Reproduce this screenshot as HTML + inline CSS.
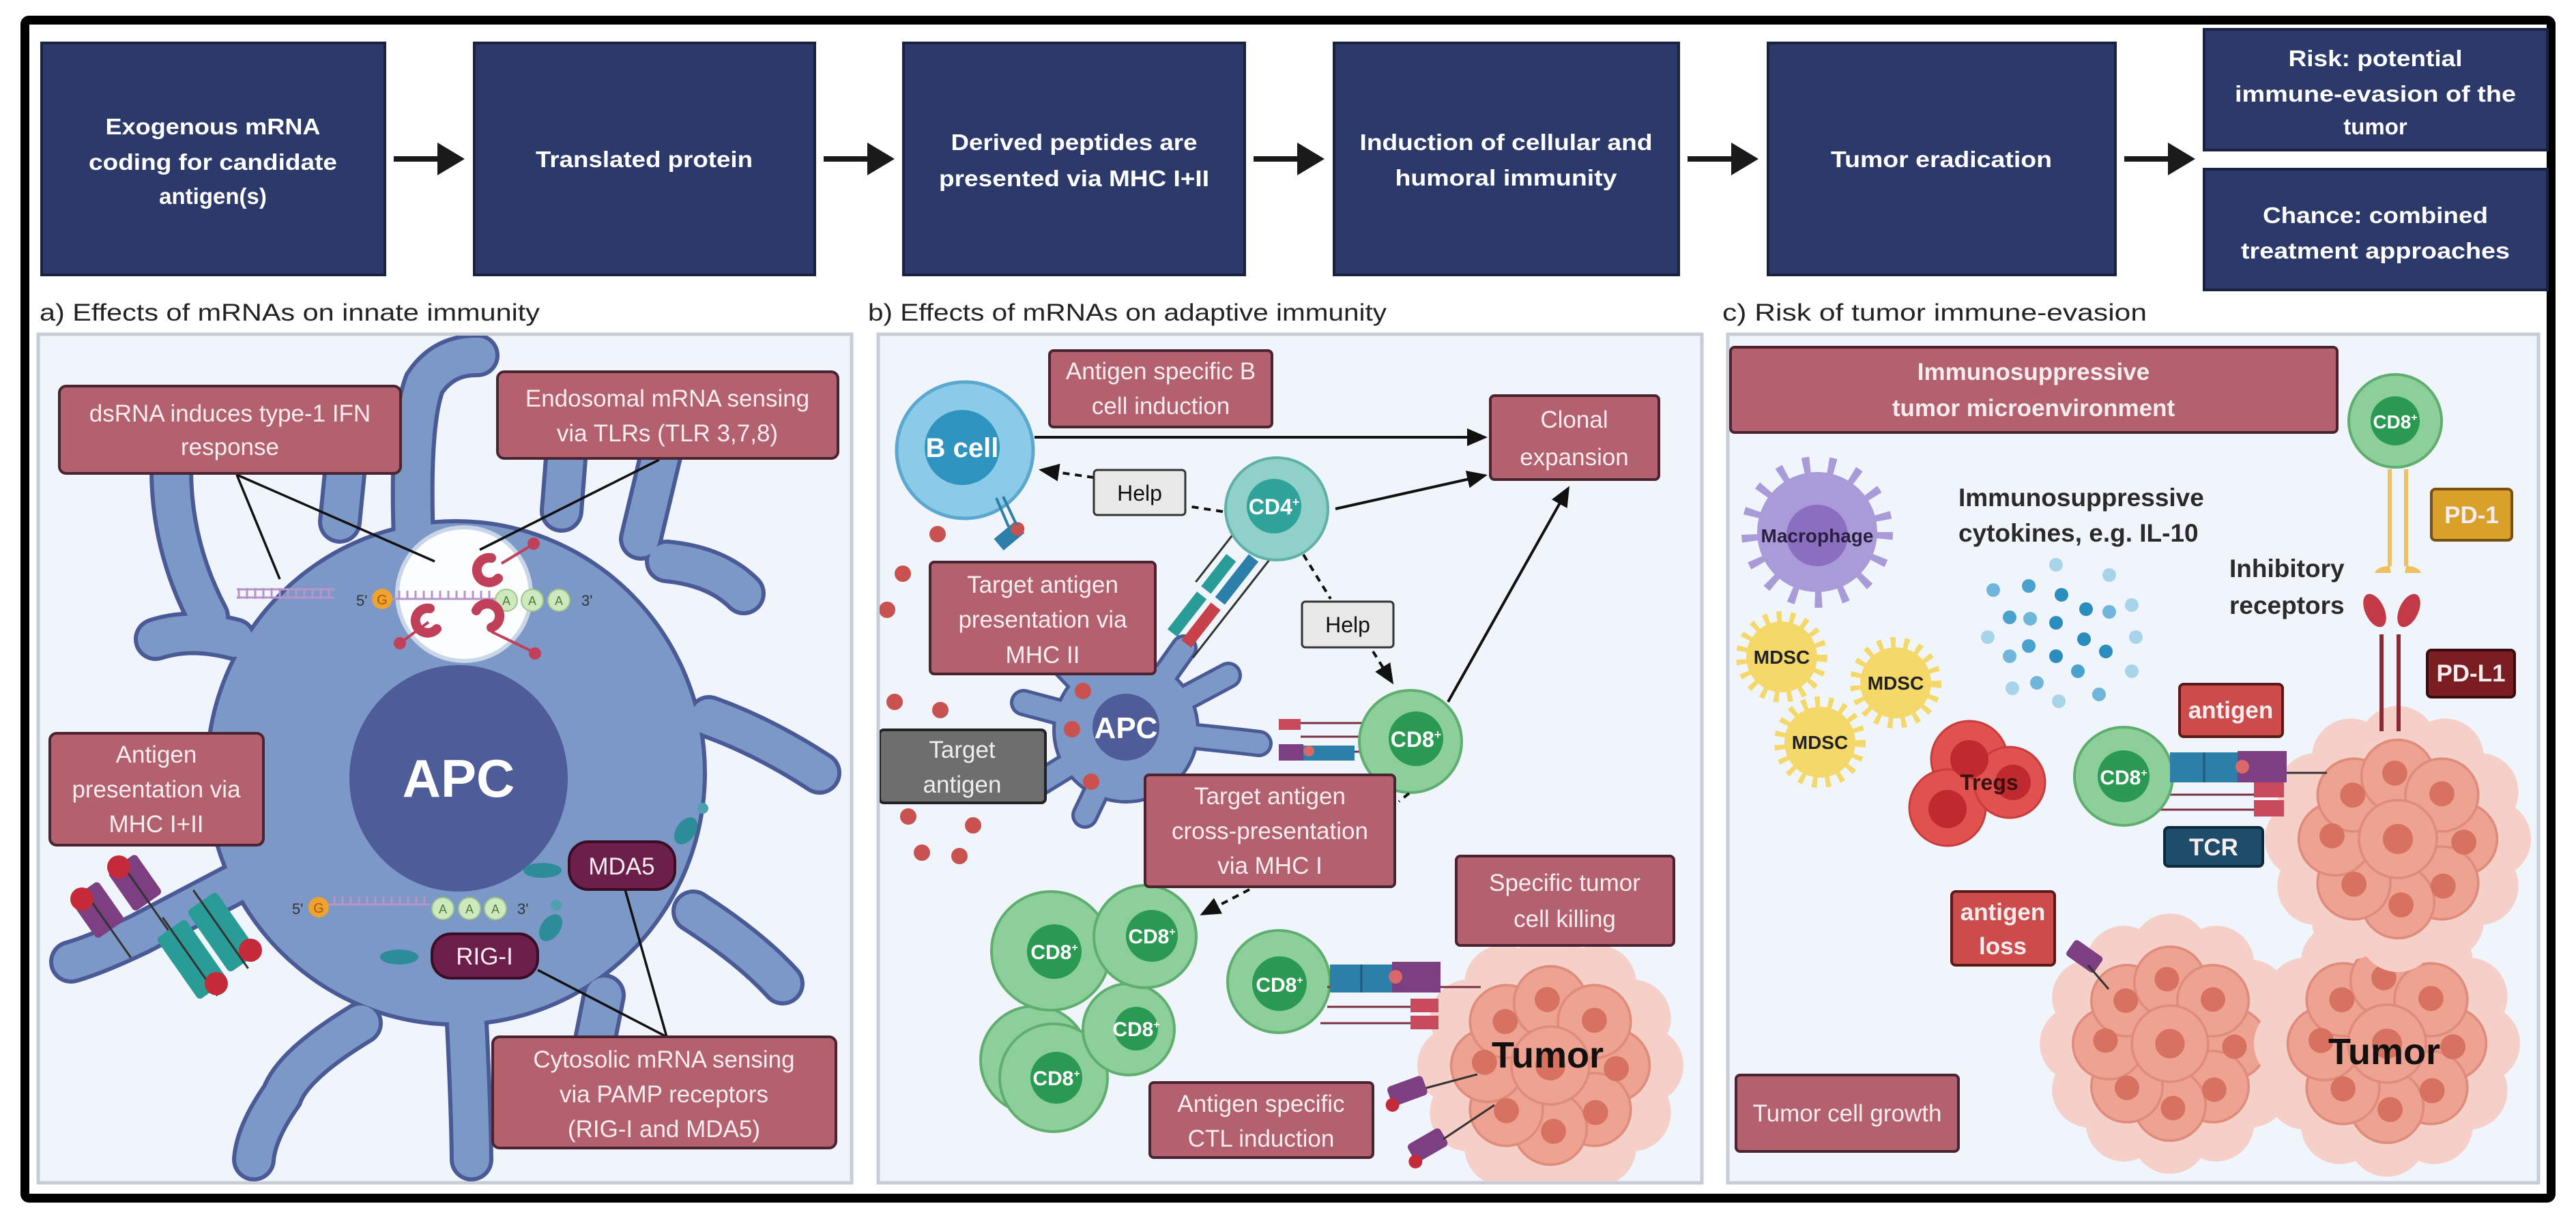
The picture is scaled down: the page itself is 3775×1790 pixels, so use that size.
<!DOCTYPE html>
<html><head><meta charset="utf-8"><style>
html,body{margin:0;padding:0;background:#fff;}
svg{display:block;}
text{font-family:"Liberation Sans",sans-serif;}
</style></head><body>
<svg width="3775" height="1790" viewBox="0 0 3775 1790" xmlns="http://www.w3.org/2000/svg">
<defs>
<clipPath id="cpa"><rect x="58" y="492" width="1188" height="1240"/></clipPath>
<clipPath id="cpb"><rect x="1289" y="492" width="1203" height="1240"/></clipPath>
<clipPath id="cpc"><rect x="2534" y="492" width="1184" height="1240"/></clipPath>
<g id="tumor">
  <g fill="#f4d0c8">
    <circle cx="150" cy="0" r="62"/><circle cx="130" cy="75" r="62"/><circle cx="75" cy="130" r="62"/><circle cx="0" cy="150" r="62"/><circle cx="-75" cy="130" r="62"/><circle cx="-130" cy="75" r="62"/><circle cx="-150" cy="0" r="62"/><circle cx="-130" cy="-75" r="62"/><circle cx="-75" cy="-130" r="62"/><circle cx="0" cy="-150" r="62"/><circle cx="75" cy="-130" r="62"/><circle cx="130" cy="-75" r="62"/>
  </g>
  <g fill="#eea291" stroke="#e08c7b" stroke-width="4">
    <circle cx="100" cy="0" r="58"/><circle cx="70" cy="70" r="58"/><circle cx="0" cy="100" r="58"/><circle cx="-70" cy="70" r="58"/><circle cx="-100" cy="0" r="58"/><circle cx="-70" cy="-70" r="58"/><circle cx="0" cy="-100" r="58"/><circle cx="70" cy="-70" r="58"/><circle cx="0" cy="0" r="62"/>
  </g>
  <g fill="#d6725f">
    <circle cx="105" cy="5" r="20"/><circle cx="72" cy="75" r="20"/><circle cx="5" cy="105" r="20"/><circle cx="-70" cy="72" r="20"/><circle cx="-105" cy="-5" r="20"/><circle cx="-72" cy="-70" r="20"/><circle cx="-5" cy="-105" r="20"/><circle cx="70" cy="-72" r="20"/><circle cx="0" cy="0" r="24"/>
  </g>
</g>
<marker id="ahb" markerWidth="30" markerHeight="26" refX="26" refY="13" orient="auto" markerUnits="userSpaceOnUse"><path d="M0,0 L30,13 L0,26 Z" fill="#111"/></marker>
</defs>

<!-- frame -->
<rect x="36.5" y="29.5" width="3702" height="1727" fill="#fff" stroke="#000" stroke-width="13" rx="6"/>

<!-- top boxes -->
<g fill="#2c396b" stroke="#1a2242" stroke-width="4">
<rect x="61" y="63" width="503" height="340"/>
<rect x="695" y="63" width="499" height="340"/>
<rect x="1324" y="63" width="500" height="340"/>
<rect x="1955" y="63" width="505" height="340"/>
<rect x="2591" y="63" width="509" height="340"/>
<rect x="3230" y="43" width="503" height="177"/>
<rect x="3230" y="248" width="503" height="177"/>
</g>
<g fill="#fff" font-weight="bold" font-size="33" text-anchor="middle">
<text x="312" y="197" textLength="315" lengthAdjust="spacingAndGlyphs">Exogenous mRNA</text>
<text x="312" y="249" textLength="364" lengthAdjust="spacingAndGlyphs">coding for candidate</text>
<text x="312" y="299">antigen(s)</text>
<text x="944" y="245" textLength="318" lengthAdjust="spacingAndGlyphs">Translated protein</text>
<text x="1574" y="220" textLength="361" lengthAdjust="spacingAndGlyphs">Derived peptides are</text>
<text x="1574" y="273" textLength="396" lengthAdjust="spacingAndGlyphs">presented via MHC I+II</text>
<text x="2207" y="220" textLength="429" lengthAdjust="spacingAndGlyphs">Induction of cellular and</text>
<text x="2207" y="272" textLength="325" lengthAdjust="spacingAndGlyphs">humoral immunity</text>
<text x="2845" y="245" textLength="324" lengthAdjust="spacingAndGlyphs">Tumor eradication</text>
<text x="3481" y="97" textLength="255" lengthAdjust="spacingAndGlyphs">Risk: potential</text>
<text x="3481" y="149" textLength="412" lengthAdjust="spacingAndGlyphs">immune-evasion of the</text>
<text x="3481" y="197">tumor</text>
<text x="3481" y="327" textLength="330" lengthAdjust="spacingAndGlyphs">Chance: combined</text>
<text x="3481" y="379" textLength="394" lengthAdjust="spacingAndGlyphs">treatment approaches</text>
</g>
<g fill="#1a1a1a">
<path d="M577,229 h64 v-20 l40,24 l-40,24 v-20 h-64 z"/>
<path d="M1207,229 h64 v-20 l40,24 l-40,24 v-20 h-64 z"/>
<path d="M1837,229 h64 v-20 l40,24 l-40,24 v-20 h-64 z"/>
<path d="M2473,229 h64 v-20 l40,24 l-40,24 v-20 h-64 z"/>
<path d="M3113,229 h64 v-20 l40,24 l-40,24 v-20 h-64 z"/>
</g>

<g fill="#222" font-size="35">
<text x="58" y="470" textLength="733" lengthAdjust="spacingAndGlyphs">a) Effects of mRNAs on innate immunity</text>
<text x="1272" y="470" textLength="760" lengthAdjust="spacingAndGlyphs">b) Effects of mRNAs on adaptive immunity</text>
<text x="2524" y="470" textLength="622" lengthAdjust="spacingAndGlyphs">c)  Risk of tumor immune-evasion</text>
</g>

<g fill="#f0f5fb" stroke="#c6cdd7" stroke-width="5">
<rect x="56" y="490" width="1192" height="1244"/>
<rect x="1287" y="490" width="1207" height="1244"/>
<rect x="2532" y="490" width="1188" height="1244"/>
</g>

<!-- ============ PANEL A ============ -->
<g clip-path="url(#cpa)">
<g stroke-linecap="round" fill="none">
 <g stroke="#4a5a96" stroke-width="64">
  <path d="M305,904 Q250,800 251,684"/>
  <path d="M498,765 L506,684"/>
  <path d="M606,790 Q600,620 622,562 Q650,520 700,521"/>
  <path d="M823,749 L830,660"/>
  <path d="M939,790 L970,660"/>
  <path d="M977,823 Q1050,830 1090,870"/>
  <path d="M1039,1051 Q1120,1080 1201,1133"/>
  <path d="M1016,1336 Q1100,1390 1147,1442"/>
  <path d="M885,1459 L869,1540"/>
  <path d="M684,1500 Q690,1620 691,1700"/>
  <path d="M529,1500 Q430,1560 413,1606 Q375,1660 372,1700"/>
  <path d="M344,1296 Q260,1340 205,1369 Q140,1400 104,1410"/>
  <path d="M344,937 Q280,920 228,937"/>
 </g>
 <ellipse cx="668" cy="1133" rx="368" ry="372" fill="#4a5a96" stroke="none"/>
 <g stroke="#7b98c6" stroke-width="52">
  <path d="M305,904 Q250,800 251,684"/>
  <path d="M498,765 L506,684"/>
  <path d="M606,790 Q600,620 622,562 Q650,520 700,521"/>
  <path d="M823,749 L830,660"/>
  <path d="M939,790 L970,660"/>
  <path d="M977,823 Q1050,830 1090,870"/>
  <path d="M1039,1051 Q1120,1080 1201,1133"/>
  <path d="M1016,1336 Q1100,1390 1147,1442"/>
  <path d="M885,1459 L869,1540"/>
  <path d="M684,1500 Q690,1620 691,1700"/>
  <path d="M529,1500 Q430,1560 413,1606 Q375,1660 372,1700"/>
  <path d="M344,1296 Q260,1340 205,1369 Q140,1400 104,1410"/>
  <path d="M344,937 Q280,920 228,937"/>
 </g>
 <ellipse cx="668" cy="1133" rx="362" ry="366" fill="#7b98c6" stroke="none"/>
</g>
<ellipse cx="672" cy="1141" rx="160" ry="166" fill="#4f5c9a"/>
<text x="672" y="1168" fill="#fff" font-size="78" font-weight="bold" text-anchor="middle">APC</text>
<circle cx="680" cy="871" r="98" fill="#fbfdff" stroke="#c8d6e8" stroke-width="6"/>
<g stroke="#b693c8" stroke-width="3">
<line x1="347" y1="864" x2="490" y2="864"/><line x1="347" y1="876" x2="490" y2="876"/>
<line x1="575" y1="878" x2="725" y2="878"/>
</g>
<path d="M350,862 v16 M362,862 v16 M374,862 v16 M386,862 v16 M398,862 v16 M410,862 v16 M422,862 v16 M434,862 v16 M446,862 v16 M458,862 v16 M470,862 v16 M482,862 v16 M585,866 v12 M597,866 v12 M609,866 v12 M621,866 v12 M633,866 v12 M645,866 v12 M657,866 v12 M669,866 v12 M681,866 v12 M693,866 v12 M705,866 v12 M717,866 v12" stroke="#b693c8" stroke-width="3"/>
<text x="522" y="888" font-size="22" fill="#333">5'</text>
<circle cx="560" cy="878" r="15" fill="#f0a230"/><text x="560" y="886" font-size="20" fill="#a25c00" text-anchor="middle">G</text>
<g fill="#cfe9bf" stroke="#9cc88a" stroke-width="2"><circle cx="742" cy="880" r="16"/><circle cx="780" cy="880" r="16"/><circle cx="819" cy="880" r="16"/></g>
<g font-size="18" fill="#4c7a3c" text-anchor="middle"><text x="742" y="887">A</text><text x="780" y="887">A</text><text x="819" y="887">A</text></g>
<text x="852" y="888" font-size="22" fill="#333">3'</text>
<g fill="none" stroke="#c0405a" stroke-width="14" stroke-linecap="round">
<path d="M720,818 a18,18 0 1,0 10,30"/>
<path d="M640,922 a18,18 0 1,1 -10,-30"/>
<path d="M720,920 a18,18 0 1,0 -22,-25"/>
</g>
<g stroke="#c0405a" stroke-width="4"><line x1="735" y1="826" x2="778" y2="800"/><line x1="628" y1="912" x2="590" y2="940"/><line x1="720" y1="926" x2="780" y2="955"/></g>
<g fill="#c0405a"><circle cx="782" cy="797" r="9"/><circle cx="586" cy="943" r="9"/><circle cx="784" cy="958" r="9"/></g>
<line x1="482" y1="1326" x2="630" y2="1326" stroke="#b693c8" stroke-width="3"/>
<path d="M490,1314 v12 M502,1314 v12 M514,1314 v12 M526,1314 v12 M538,1314 v12 M550,1314 v12 M562,1314 v12 M574,1314 v12 M586,1314 v12 M598,1314 v12 M610,1314 v12 M622,1314 v12" stroke="#b693c8" stroke-width="3"/>
<text x="428" y="1340" font-size="22" fill="#333">5'</text>
<circle cx="467" cy="1330" r="15" fill="#f0a230"/><text x="467" y="1338" font-size="20" fill="#a25c00" text-anchor="middle">G</text>
<g fill="#cfe9bf" stroke="#9cc88a" stroke-width="2"><circle cx="649" cy="1332" r="16"/><circle cx="688" cy="1332" r="16"/><circle cx="726" cy="1332" r="16"/></g>
<g font-size="18" fill="#4c7a3c" text-anchor="middle"><text x="649" y="1339">A</text><text x="688" y="1339">A</text><text x="726" y="1339">A</text></g>
<text x="758" y="1340" font-size="22" fill="#333">3'</text>
<g fill="#2c8c98"><ellipse cx="795" cy="1276" rx="28" ry="11"/><ellipse cx="1005" cy="1218" rx="14" ry="22" transform="rotate(35 1005 1218)"/><ellipse cx="585" cy="1403" rx="28" ry="11"/><ellipse cx="807" cy="1360" rx="14" ry="22" transform="rotate(35 807 1360)"/></g>
<g fill="#4fa0ad"><circle cx="1030" cy="1185" r="8"/><circle cx="815" cy="1327" r="8"/></g>
<g transform="rotate(-35 140 1330)"><rect x="115" y="1300" width="50" height="70" rx="6" fill="#7b3f82"/><line x1="140" y1="1305" x2="140" y2="1420" stroke="#333" stroke-width="3"/></g>
<g transform="rotate(-35 195 1290)"><rect x="170" y="1260" width="50" height="70" rx="6" fill="#7b3f82"/><line x1="195" y1="1265" x2="195" y2="1380" stroke="#333" stroke-width="3"/></g>
<circle cx="120" cy="1318" r="17" fill="#c42a3a"/><circle cx="174" cy="1271" r="17" fill="#c42a3a"/>
<g transform="rotate(-35 285 1410)"><rect x="258" y="1350" width="52" height="110" rx="6" fill="#2a9c98"/><line x1="284" y1="1330" x2="284" y2="1470" stroke="#333" stroke-width="3"/></g>
<g transform="rotate(-35 330 1370)"><rect x="303" y="1310" width="52" height="110" rx="6" fill="#2a9c98"/><line x1="329" y1="1290" x2="329" y2="1430" stroke="#333" stroke-width="3"/></g>
<circle cx="317" cy="1442" r="17" fill="#c42a3a"/><circle cx="367" cy="1393" r="17" fill="#c42a3a"/>
<g stroke="#111" stroke-width="3.5">
<line x1="347" y1="696" x2="410" y2="849"/>
<line x1="347" y1="696" x2="637" y2="823"/>
<line x1="966" y1="674" x2="703" y2="806"/>
<line x1="977" y1="1520" x2="916" y2="1304"/>
<line x1="977" y1="1520" x2="788" y2="1422"/>
</g>
<g fill="#b3606f" stroke="#4a2430" stroke-width="4">
<rect x="87" y="566" width="500" height="128" rx="10"/>
<rect x="729" y="545" width="499" height="127" rx="10"/>
<rect x="73" y="1075" width="313" height="164" rx="10"/>
<rect x="722" y="1520" width="503" height="163" rx="10"/>
</g>
<g fill="#6b1f4a" stroke="#3a0d25" stroke-width="4">
<rect x="834" y="1234" width="155" height="70" rx="28"/>
<rect x="633" y="1369" width="155" height="65" rx="28"/>
</g>
<g fill="#f7ecee" font-size="35" text-anchor="middle">
<text x="337" y="618">dsRNA induces type-1 IFN</text><text x="337" y="667">response</text>
<text x="978" y="596">Endosomal mRNA sensing</text><text x="978" y="647">via TLRs (TLR 3,7,8)</text>
<text x="229" y="1118">Antigen</text><text x="229" y="1169">presentation via</text><text x="229" y="1220">MHC I+II</text>
<text x="973" y="1565">Cytosolic mRNA sensing</text><text x="973" y="1616">via PAMP receptors</text><text x="973" y="1667">(RIG-I and MDA5)</text>
<text x="911" y="1282">MDA5</text><text x="710" y="1414">RIG-I</text>
</g>
</g>

<!-- ============ PANEL B ============ -->
<g clip-path="url(#cpb)">
<g fill="#c9514f">
<circle cx="1374" cy="783" r="12"/><circle cx="1323" cy="841" r="12"/><circle cx="1300" cy="894" r="12"/><circle cx="1311" cy="1029" r="12"/><circle cx="1378" cy="1041" r="12"/><circle cx="1331" cy="1197" r="12"/><circle cx="1426" cy="1210" r="12"/><circle cx="1351" cy="1250" r="12"/><circle cx="1406" cy="1255" r="12"/>
</g>
<g stroke-linecap="round" fill="none">
 <g stroke="#4a5a96" stroke-width="40">
  <path d="M1650,1070 L1735,950"/><path d="M1650,1070 Q1760,1080 1845,1090"/><path d="M1650,1070 L1500,1030"/><path d="M1650,1070 L1590,1195"/><path d="M1650,1070 L1720,1200"/><path d="M1650,1070 L1545,960"/><path d="M1650,1070 L1800,990"/><path d="M1650,1070 L1520,1150"/>
 </g>
 <circle cx="1650" cy="1070" r="108" fill="#4a5a96" stroke="none"/>
 <g stroke="#7b98c6" stroke-width="30">
  <path d="M1650,1070 L1735,950"/><path d="M1650,1070 Q1760,1080 1845,1090"/><path d="M1650,1070 L1500,1030"/><path d="M1650,1070 L1590,1195"/><path d="M1650,1070 L1720,1200"/><path d="M1650,1070 L1545,960"/><path d="M1650,1070 L1800,990"/><path d="M1650,1070 L1520,1150"/>
 </g>
 <circle cx="1650" cy="1070" r="103" fill="#7b98c6" stroke="none"/>
</g>
<circle cx="1650" cy="1066" r="49" fill="#4f5c9a"/>
<text x="1650" y="1082" fill="#fff" font-size="44" font-weight="bold" text-anchor="middle">APC</text>
<circle cx="1587" cy="1013" r="12" fill="#c9514f"/><circle cx="1571" cy="1069" r="12" fill="#c9514f"/><circle cx="1599" cy="1146" r="12" fill="#c9514f"/>
<g transform="rotate(-52 1790 870)">
<rect x="1700" y="840" width="70" height="18" fill="#2a9c98"/><rect x="1780" y="840" width="60" height="18" fill="#2a9c98"/>
<rect x="1700" y="866" width="70" height="18" fill="#c7414a"/><rect x="1780" y="866" width="80" height="18" fill="#2b7fa8"/>
<line x1="1690" y1="895" x2="1900" y2="895" stroke="#333" stroke-width="3"/><line x1="1780" y1="830" x2="1900" y2="830" stroke="#333" stroke-width="3"/>
</g>
<rect x="1874" y="1054" width="32" height="16" fill="#c94a5c"/>
<rect x="1874" y="1091" width="36" height="24" fill="#7b3f82"/>
<rect x="1910" y="1093" width="75" height="22" fill="#2b7fa8"/>
<circle cx="1918" cy="1101" r="8" fill="#d9686a"/>
<g stroke="#7a3040" stroke-width="3"><line x1="1906" y1="1060" x2="2040" y2="1060"/><line x1="1906" y1="1080" x2="2040" y2="1080"/><line x1="1985" y1="1102" x2="2040" y2="1102"/></g>
<circle cx="1414" cy="660" r="100" fill="#8ccbe8" stroke="#5aa8d0" stroke-width="5"/>
<circle cx="1410" cy="656" r="55" fill="#2e93bf"/>
<text x="1410" y="670" fill="#fff" font-size="40" font-weight="bold" text-anchor="middle">B cell</text>
<g transform="rotate(-40 1480 790)"><rect x="1462" y="775" width="40" height="22" fill="#2b7fa8"/><circle cx="1498" cy="786" r="10" fill="#c9514f"/></g>
<line x1="1460" y1="730" x2="1478" y2="772" stroke="#2b7fa8" stroke-width="4"/><line x1="1470" y1="728" x2="1490" y2="770" stroke="#2b7fa8" stroke-width="4"/>
<circle cx="1871" cy="746" r="75" fill="#8fd0c8" stroke="#5fb0a8" stroke-width="4"/>
<circle cx="1867" cy="742" r="40" fill="#2fa39a"/>
<text x="1867" y="754" fill="#fff" font-size="32" font-weight="bold" text-anchor="middle">CD4<tspan font-size="18" dy="-12">+</tspan></text>
<circle cx="2067" cy="1087" r="75" fill="#8ccf9a" stroke="#5fae6f" stroke-width="4"/>
<circle cx="2075" cy="1083" r="40" fill="#2a9a52"/>
<text x="2075" y="1095" fill="#fff" font-size="32" font-weight="bold" text-anchor="middle">CD8<tspan font-size="18" dy="-12">+</tspan></text>
<g stroke="#111" stroke-width="4" fill="none">
<line x1="1516" y1="641" x2="2176" y2="641" marker-end="url(#ahb)"/>
<line x1="1957" y1="746" x2="2176" y2="697" marker-end="url(#ahb)"/>
<line x1="2122" y1="1029" x2="2298" y2="716" marker-end="url(#ahb)"/>
</g>
<g stroke="#111" stroke-width="4" fill="none" stroke-dasharray="10 8">
<line x1="1792" y1="750" x2="1740" y2="742"/>
<line x1="1603" y1="700" x2="1526" y2="689" marker-end="url(#ahb)"/>
<line x1="1910" y1="813" x2="1950" y2="878"/>
<line x1="2012" y1="955" x2="2040" y2="1000" marker-end="url(#ahb)"/>
<line x1="2065" y1="1163" x2="2050" y2="1175"/>
<line x1="1831" y1="1304" x2="1762" y2="1340" marker-end="url(#ahb)"/>
</g>
<g fill="#8ccf9a" stroke="#5fae6f" stroke-width="4">
<circle cx="1516" cy="1554" r="79"/><circle cx="1544" cy="1580" r="79"/><circle cx="1654" cy="1509" r="67"/><circle cx="1540" cy="1394" r="87"/><circle cx="1678" cy="1373" r="75"/>
</g>
<g fill="#2a9a52"><circle cx="1548" cy="1580" r="38"/><circle cx="1665" cy="1508" r="32"/><circle cx="1545" cy="1395" r="40"/><circle cx="1688" cy="1372" r="38"/></g>
<g fill="#fff" font-size="30" font-weight="bold" text-anchor="middle">
<text x="1548" y="1591">CD8<tspan font-size="16" dy="-12">+</tspan></text>
<text x="1665" y="1519">CD8<tspan font-size="16" dy="-12">+</tspan></text>
<text x="1545" y="1406">CD8<tspan font-size="16" dy="-12">+</tspan></text>
<text x="1688" y="1383">CD8<tspan font-size="16" dy="-12">+</tspan></text>
</g>
<use href="#tumor" transform="translate(2272,1562) scale(0.92)"/>
<text x="2268" y="1565" fill="#111" font-size="54" font-weight="bold" text-anchor="middle">Tumor</text>
<circle cx="1874" cy="1439" r="75" fill="#8ccf9a" stroke="#5fae6f" stroke-width="4"/>
<circle cx="1875" cy="1442" r="40" fill="#2a9a52"/>
<text x="1875" y="1454" fill="#fff" font-size="30" font-weight="bold" text-anchor="middle">CD8<tspan font-size="16" dy="-12">+</tspan></text>
<g stroke="#7a3040" stroke-width="3"><line x1="1945" y1="1447" x2="2170" y2="1447"/><line x1="1945" y1="1476" x2="2108" y2="1476"/><line x1="1935" y1="1500" x2="2108" y2="1500"/></g>
<rect x="1949" y="1414" width="91" height="41" fill="#2b7fa8"/><line x1="1995" y1="1414" x2="1995" y2="1455" stroke="#1e5a78" stroke-width="3"/>
<rect x="2040" y="1410" width="71" height="45" fill="#7b3f82"/><circle cx="2045" cy="1432" r="10" fill="#d9686a"/>
<rect x="2067" y="1464" width="41" height="20" fill="#c94a5c"/><rect x="2067" y="1489" width="41" height="20" fill="#c94a5c"/>
<g transform="rotate(-20 2060 1600)"><rect x="2035" y="1585" width="55" height="30" rx="6" fill="#7b3f82"/><circle cx="2035" cy="1612" r="10" fill="#c42a3a"/></g>
<g transform="rotate(-30 2090 1680)"><rect x="2065" y="1665" width="55" height="30" rx="6" fill="#7b3f82"/><circle cx="2065" cy="1692" r="10" fill="#c42a3a"/></g>
<line x1="2090" y1="1595" x2="2165" y2="1575" stroke="#333" stroke-width="3"/><line x1="2115" y1="1670" x2="2190" y2="1620" stroke="#333" stroke-width="3"/>
<g fill="#b3606f" stroke="#4a2430" stroke-width="4">
<rect x="1538" y="514" width="326" height="112" rx="6"/>
<rect x="2184" y="580" width="247" height="123" rx="6"/>
<rect x="1363" y="824" width="330" height="164" rx="6"/>
<rect x="1678" y="1136" width="366" height="164" rx="6"/>
<rect x="2134" y="1255" width="319" height="131" rx="6"/>
<rect x="1685" y="1587" width="327" height="110" rx="6"/>
</g>
<rect x="1289" y="1070" width="243" height="107" rx="6" fill="#6e6e6e" stroke="#222" stroke-width="4"/>
<g fill="#e8e8e8" stroke="#333" stroke-width="3"><rect x="1603" y="689" width="134" height="66" rx="5"/><rect x="1908" y="882" width="134" height="67" rx="5"/></g>
<g fill="#f7ecee" font-size="35" text-anchor="middle">
<text x="1701" y="556">Antigen specific B</text><text x="1701" y="607">cell induction</text>
<text x="2307" y="627">Clonal</text><text x="2307" y="682">expansion</text>
<text x="1528" y="869">Target antigen</text><text x="1528" y="920">presentation via</text><text x="1528" y="972">MHC II</text>
<text x="1861" y="1179">Target antigen</text><text x="1861" y="1230">cross-presentation</text><text x="1861" y="1281">via MHC I</text>
<text x="2293" y="1306">Specific tumor</text><text x="2293" y="1359">cell killing</text>
<text x="1848" y="1630">Antigen specific</text><text x="1848" y="1681">CTL induction</text>
<text x="1410" y="1111" fill="#eee">Target</text><text x="1410" y="1162" fill="#eee">antigen</text>
</g>
<g fill="#111" font-size="32" text-anchor="middle"><text x="1670" y="734">Help</text><text x="1975" y="927">Help</text></g>
</g>

<!-- ============ PANEL C ============ -->
<g clip-path="url(#cpc)">
<use href="#tumor" transform="translate(3180,1530) scale(0.9)"/>
<use href="#tumor" transform="translate(3498,1530) scale(0.92)"/>
<use href="#tumor" transform="translate(3514,1230) scale(0.92)"/>
<text x="3494" y="1560" fill="#111" font-size="54" font-weight="bold" text-anchor="middle">Tumor</text>
<circle cx="2663" cy="780" r="88" fill="#a99ad8"/>
<circle cx="2663" cy="780" r="96" fill="none" stroke="#a99ad8" stroke-width="30" stroke-dasharray="10 26"/>
<circle cx="2663" cy="785" r="45" fill="#8a6ec0"/>
<text x="2663" y="795" fill="#2a1f40" font-size="28" font-weight="bold" text-anchor="middle">Macrophage</text>
<g fill="#f5d86a">
<circle cx="2611" cy="963" r="52"/><circle cx="2778" cy="1001" r="52"/><circle cx="2667" cy="1088" r="52"/>
</g>
<g fill="none" stroke="#f5d86a" stroke-width="18" stroke-dasharray="7 12">
<circle cx="2611" cy="963" r="58"/><circle cx="2778" cy="1001" r="58"/><circle cx="2667" cy="1088" r="58"/>
</g>
<g fill="#222" font-size="28" font-weight="bold" text-anchor="middle">
<text x="2611" y="973">MDSC</text><text x="2778" y="1011">MDSC</text><text x="2667" y="1098">MDSC</text>
</g>
<g fill="#2a2a2a" font-size="37" font-weight="bold">
<text x="2870" y="742">Immunosuppressive</text><text x="2870" y="794">cytokines, e.g. IL-10</text>
<text x="3267" y="846">Inhibitory</text><text x="3267" y="900">receptors</text>
</g>
<g>
<circle cx="3013" cy="828" r="10" fill="#a8d4ea"/><circle cx="3091" cy="843" r="10" fill="#a8d4ea"/><circle cx="2921" cy="865" r="10" fill="#6fb6da"/><circle cx="2973" cy="859" r="10" fill="#4aa2cf"/><circle cx="3021" cy="872" r="10" fill="#2b8cbf"/><circle cx="3124" cy="887" r="10" fill="#a8d4ea"/><circle cx="2945" cy="905" r="10" fill="#4aa2cf"/><circle cx="2975" cy="907" r="10" fill="#6fb6da"/><circle cx="3057" cy="893" r="10" fill="#2b8cbf"/><circle cx="3091" cy="897" r="10" fill="#6fb6da"/><circle cx="3013" cy="913" r="10" fill="#2b8cbf"/><circle cx="2913" cy="934" r="10" fill="#a8d4ea"/><circle cx="2973" cy="947" r="10" fill="#4aa2cf"/><circle cx="3054" cy="937" r="10" fill="#2b8cbf"/><circle cx="3130" cy="934" r="10" fill="#a8d4ea"/><circle cx="3086" cy="955" r="10" fill="#2b8cbf"/><circle cx="2945" cy="962" r="10" fill="#6fb6da"/><circle cx="3013" cy="962" r="10" fill="#2b8cbf"/><circle cx="3045" cy="984" r="10" fill="#4aa2cf"/><circle cx="3124" cy="984" r="10" fill="#a8d4ea"/><circle cx="2985" cy="1001" r="10" fill="#6fb6da"/><circle cx="3076" cy="1018" r="10" fill="#6fb6da"/><circle cx="2949" cy="1009" r="10" fill="#a8d4ea"/><circle cx="3017" cy="1028" r="10" fill="#a8d4ea"/>
</g>
<g fill="#e0514f" stroke="#c83c3c" stroke-width="3"><circle cx="2886" cy="1113" r="56"/><circle cx="2854" cy="1184" r="56"/><circle cx="2945" cy="1147" r="52"/></g>
<g fill="#c02a2e"><circle cx="2886" cy="1113" r="28"/><circle cx="2854" cy="1186" r="28"/><circle cx="2950" cy="1147" r="26"/></g>
<text x="2915" y="1158" fill="#3a1010" font-size="32" font-weight="bold" text-anchor="middle">Tregs</text>
<line x1="3502" y1="688" x2="3502" y2="830" stroke="#f0c060" stroke-width="6"/><line x1="3526" y1="688" x2="3526" y2="830" stroke="#f0c060" stroke-width="6"/>
<path d="M3502,830 q-18,0 -22,10 h24 z M3526,830 q18,0 22,10 h-24 z" fill="#f0c060"/>
<circle cx="3510" cy="617" r="68" fill="#8ccf9a" stroke="#5fae6f" stroke-width="4"/>
<circle cx="3510" cy="617" r="36" fill="#2a9a52"/>
<text x="3510" y="628" fill="#fff" font-size="28" font-weight="bold" text-anchor="middle">CD8<tspan font-size="16" dy="-11">+</tspan></text>
<line x1="3490" y1="930" x2="3490" y2="1072" stroke="#8a2a33" stroke-width="6"/><line x1="3515" y1="930" x2="3515" y2="1072" stroke="#8a2a33" stroke-width="6"/>
<ellipse cx="3480" cy="895" rx="14" ry="26" fill="#c23a48" transform="rotate(-25 3480 895)"/><ellipse cx="3530" cy="895" rx="14" ry="26" fill="#c23a48" transform="rotate(25 3530 895)"/>
<line x1="3351" y1="1133" x2="3410" y2="1133" stroke="#333" stroke-width="3"/>
<g stroke="#7a3040" stroke-width="3"><line x1="3170" y1="1165" x2="3303" y2="1165"/><line x1="3165" y1="1187" x2="3303" y2="1187"/></g>
<circle cx="3112" cy="1138" r="72" fill="#8ccf9a" stroke="#5fae6f" stroke-width="4"/>
<circle cx="3112" cy="1138" r="38" fill="#2a9a52"/>
<text x="3112" y="1150" fill="#fff" font-size="30" font-weight="bold" text-anchor="middle">CD8<tspan font-size="16" dy="-12">+</tspan></text>
<rect x="3180" y="1103" width="99" height="44" fill="#2b7fa8"/><line x1="3230" y1="1103" x2="3230" y2="1147" stroke="#1e5a78" stroke-width="3"/>
<rect x="3279" y="1101" width="72" height="46" fill="#7b3f82"/><circle cx="3286" cy="1124" r="10" fill="#d9686a"/>
<rect x="3303" y="1147" width="44" height="22" fill="#c94a5c"/><rect x="3303" y="1173" width="44" height="24" fill="#c94a5c"/>
<g transform="rotate(35 3050 1400)"><rect x="3030" y="1385" width="50" height="28" rx="5" fill="#7b3f82"/></g>
<line x1="3060" y1="1415" x2="3090" y2="1450" stroke="#333" stroke-width="3"/>
<rect x="2536" y="509" width="889" height="125" rx="6" fill="#b3606f" stroke="#4a2430" stroke-width="4"/>
<rect x="2544" y="1576" width="326" height="112" rx="6" fill="#b3606f" stroke="#4a2430" stroke-width="4"/>
<rect x="3563" y="717" width="118" height="75" rx="6" fill="#d9a02a" stroke="#7a5010" stroke-width="4"/>
<rect x="3557" y="953" width="128" height="69" rx="6" fill="#7a1e22" stroke="#3a0c10" stroke-width="4"/>
<rect x="3194" y="1003" width="151" height="77" rx="6" fill="#cc4b4b" stroke="#5a1a1a" stroke-width="4"/>
<rect x="2860" y="1307" width="151" height="108" rx="6" fill="#cc4b4b" stroke="#5a1a1a" stroke-width="4"/>
<rect x="3172" y="1213" width="144" height="57" rx="6" fill="#1e4d6a" stroke="#0e2a3a" stroke-width="4"/>
<g fill="#f7ecee" font-size="35" font-weight="bold" text-anchor="middle">
<text x="2980" y="557">Immunosuppressive</text><text x="2980" y="610">tumor microenvironment</text>
<text x="3622" y="767">PD-1</text><text x="3621" y="999">PD-L1</text>
<text x="3269" y="1053">antigen</text>
<text x="2935" y="1349">antigen</text><text x="2935" y="1399">loss</text>
<text x="3244" y="1254">TCR</text>
</g>
<text x="2707" y="1644" fill="#f7ecee" font-size="35" text-anchor="middle">Tumor cell growth</text>
</g>
</svg>
</body></html>
